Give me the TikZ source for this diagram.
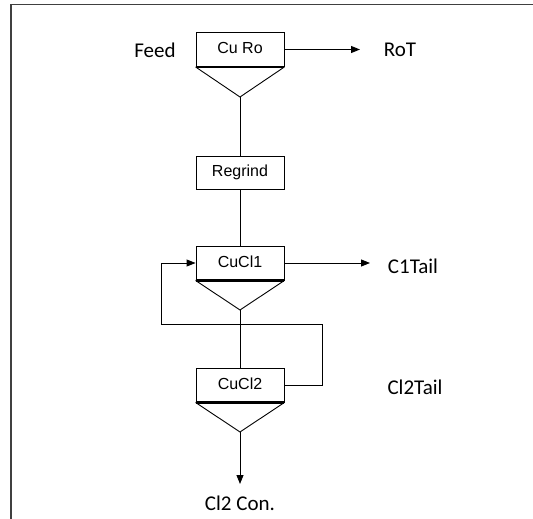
\documentclass[tikz,border=0pt]{standalone}
\usepackage{fontspec}
\setmainfont{Carlito}
\newfontfamily\boxfont{Liberation Sans}
\usetikzlibrary{arrows.meta}
\begin{document}
\begin{tikzpicture}[x=1pt,y=-1pt,
  unit/.style={draw, line width=0.9pt, minimum width=88pt, minimum height=34pt, inner sep=0pt, font=\boxfont\fontsize{16}{18}\selectfont, anchor=center},
  lbl/.style={font=\fontsize{21}{25}\selectfont, inner sep=0pt},
  ln/.style={line width=0.9pt},
  arr/.style={line width=0.9pt, -{Triangle[length=9pt,width=7pt]}},
  thk/.style={line width=2.2pt},
  tri/.style={line width=0.9pt, line join=miter}]
\useasboundingbox (0,0) rectangle (533,519);
% frame
\draw[line width=1.6pt, black!75] (11,519) -- (11,4.5) -- (533,4.5);

% units
\node[unit] (curo) at (240,49.5) {\raisebox{3pt}{Cu Ro}};
\node[unit, minimum height=33pt] (regrind) at (240,172.5) {Regrind};
\node[unit] (cucl1) at (240,263) {\raisebox{2pt}{CuCl1}};
\node[unit] (cucl2) at (240,385) {\raisebox{2pt}{CuCl2}};

% triangles (cones)
\coordinate (a0) at (240,97);
\coordinate (a1) at (240,310);
\coordinate (a2) at (240,432);
\draw[tri] (curo.south west) -- (a0) -- (curo.south east);
\draw[tri] (cucl1.south west) -- (a1) -- (cucl1.south east);
\draw[tri] (cucl2.south west) -- (a2) -- (cucl2.south east);
\draw[thk] (curo.south west) -- (curo.south east);
\draw[thk] (cucl1.south west) -- (cucl1.south east);
\draw[thk] (cucl2.south west) -- (cucl2.south east);

% labels
\node[lbl] (feed) at (155,50) {Feed};
\node[lbl] (rot) at (400,50) {RoT};
\node[lbl] (c1tail) at (413,266) {C1Tail};
\node[lbl] (cl2tail) at (415,387) {Cl2Tail};
\node[lbl] (cl2con) at (240,503) {Cl2 Con.};

% connectors
\draw[ln] (a0) -- (regrind.north);
\draw[ln] (regrind.south) -- (cucl1.north);
\draw[ln] (a1) -- (cucl2.north);
\coordinate (rtip) at (360,49.5);
\draw[arr] (curo.east) -- (rtip);
\coordinate (ctip) at (370,263);
\draw[arr] (cucl1.east) -- (ctip);
\coordinate (r1) at (322,324);
\coordinate (l1) at (161,324);
\draw[arr] (cucl2.east) -| (r1) -- (l1) |- (cucl1.west);
\coordinate (btip) at (240,484);
\draw[arr] (a2) -- (btip);
\end{tikzpicture}
\end{document}
